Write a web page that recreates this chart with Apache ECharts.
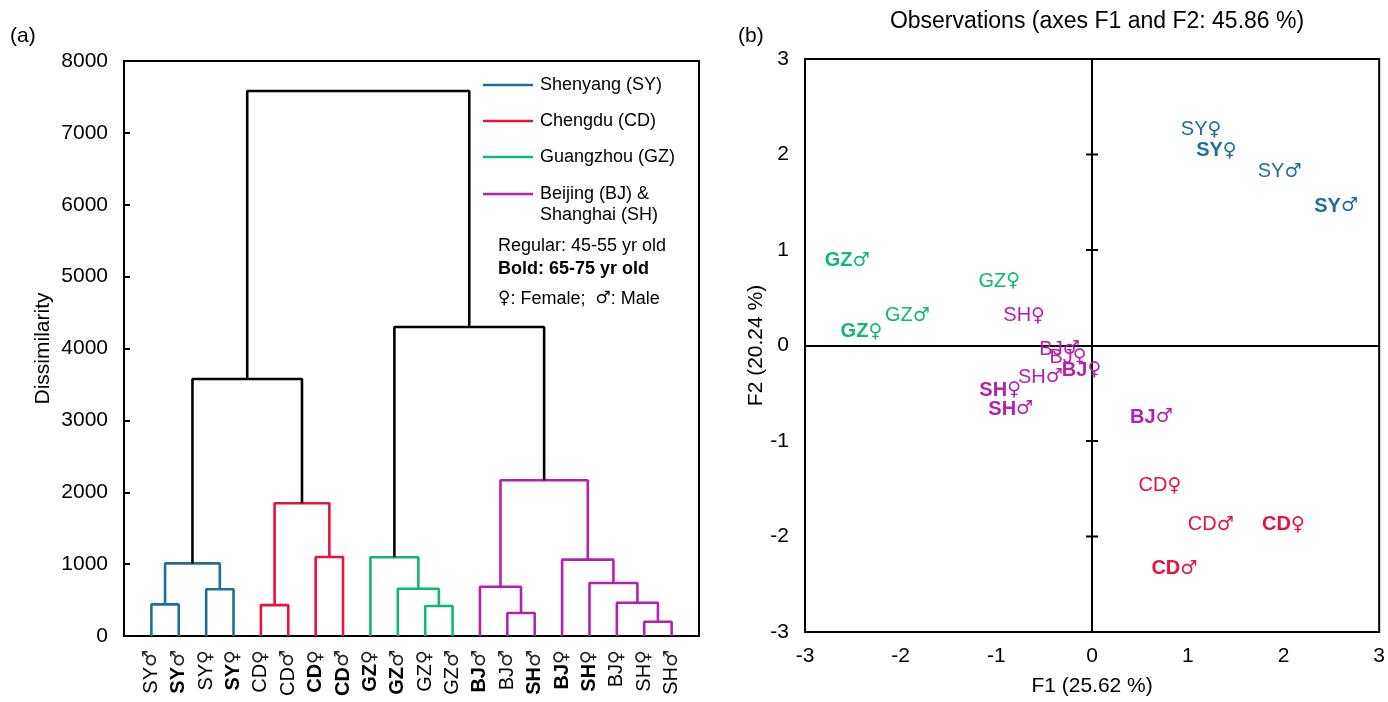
<!DOCTYPE html>
<html><head><meta charset="utf-8">
<script src="https://cdn.jsdelivr.net/npm/echarts@6/dist/echarts.min.js"></script>
<style>html,body{margin:0;padding:0;background:#fff}#c{width:1388px;height:702px}</style>
</head><body><div id="c"></div>
<script>
// ---------- Dendrogram data (panel a) ----------
const leafCities = ['SY','SY','SY','SY','CD','CD','CD','CD','GZ','GZ','GZ','GZ','BJ','BJ','SH','BJ','SH','BJ','SH','SH'];
const leafSex    = ['M','M','F','F','F','M','F','M','F','M','F','M','M','M','M','F','F','F','F','M'];
const leafBold   = [0,1,0,1,0,0,1,1,1,1,0,0,1,0,1,1,1,0,0,0];
// merges: node indices (0-19 leaves, 20+ merges in order), heights, cluster group
const mergeLeft   = [0,2,20,4,6,23,22,10,9,8,13,12,18,17,16,15,31,29,26];
const mergeRight  = [1,3,21,5,7,24,25,11,27,28,14,30,19,32,33,34,35,36,37];
const mergeHeight = [440,650,1010,430,1100,1846,3576,417,658,1095,320,686,199,463,737,1062,2166,4300,7583];
const mergeGroup  = ['SY','SY','SY','CD','CD','CD','-','GZ','GZ','GZ','BS','BS','BS','BS','BS','BS','BS','-','-'];
const dissimTicks = [0,8000,1000];

// ---------- PCA data (panel b) ----------
const pcaCity = ['SY','SY','SY','SY','GZ','GZ','GZ','GZ','SH','BJ','BJ','BJ','SH','SH','SH','BJ','CD','CD','CD','CD'];
const pcaSex  = ['F','F','M','M','M','F','M','F','F','M','F','F','M','F','M','M','F','M','F','M'];
const pcaBold = [0,1,0,1,1,0,0,1,0,0,0,1,0,1,1,1,0,0,1,1];
const pcaF1   = [1.14,1.30,1.96,2.55,-2.56,-0.97,-1.93,-2.41,-0.71,-0.34,-0.25,-0.11,-0.54,-0.96,-0.85,0.62,0.71,1.24,2.00,0.86];
const pcaF2   = [2.26,2.04,1.82,1.46,0.885,0.67,0.31,0.145,0.31,-0.04,-0.125,-0.26,-0.33,-0.47,-0.67,-0.75,-1.47,-1.875,-1.875,-2.34];
const pcaTicks = [-3,-2,-1,0,1,2,3];

const groupColor = {SY:'#1f6e9a', CD:'#e9113d', GZ:'#12b870', BJ:'#b521ad', SH:'#b521ad', BS:'#b521ad', '-':'#000000'};
const symOf = s => s === 'F' ? '\u2640' : '\u2642';
const FONT = "'Liberation Sans', Arial, sans-serif";
const SYMFONT = "'DejaVu Sans', sans-serif";

// build dendrogram line series
const nodeX = [], nodeH = [];
for (let i = 0; i < leafCities.length; i++) { nodeX.push(i + 1); nodeH.push(0); }
const series = [];
mergeLeft.forEach((l, k) => {
  const r = mergeRight[k], h = mergeHeight[k];
  series.push({
    type: 'line', xAxisIndex: 0, yAxisIndex: 0, symbol: 'none', silent: true, animation: false, clip: false,
    lineStyle: {color: groupColor[mergeGroup[k]], width: 2.6},
    data: [[nodeX[l], nodeH[l]], [nodeX[l], h], [nodeX[r], h], [nodeX[r], nodeH[r]]]
  });
  nodeX.push((nodeX[l] + nodeX[r]) / 2); nodeH.push(h);
});

// cross tick marks on the vertical zero line of panel b
series.push({
  type: 'scatter', xAxisIndex: 1, yAxisIndex: 1, silent: true, animation: false, z: 1,
  symbol: 'rect', symbolSize: [12, 2], itemStyle: {color: '#000', opacity: 1},
  data: pcaTicks.filter(t => t !== 0 && t > pcaTicks[0] && t < pcaTicks[pcaTicks.length - 1]).map(t => [0, t])
});

// PCA scatter series grouped by city colour
['SY','GZ','BJ','SH','CD'].forEach(city => {
  const data = [];
  pcaCity.forEach((c, i) => { if (c === city) data.push({value: [pcaF1[i], pcaF2[i]], city: c, sex: pcaSex[i], bold: pcaBold[i]}); });
  series.push({
    type: 'scatter', xAxisIndex: 1, yAxisIndex: 1, symbolSize: 0, silent: true, animation: false, z: 3,
    itemStyle: {color: groupColor[city], opacity: 1},
    label: {
      show: true, position: 'inside', color: groupColor[city], opacity: 1,
      formatter: p => '{' + (p.data.bold ? 'b' : 'r') + '|' + p.data.city + '}{s|' + symOf(p.data.sex) + '}',
      rich: {
        b: {fontSize: 20, fontWeight: 'bold', fontFamily: FONT, color: groupColor[city]},
        r: {fontSize: 20, fontFamily: FONT, color: groupColor[city]},
        s: {fontSize: 19, fontFamily: SYMFONT, color: groupColor[city]}
      }
    },
    data: data
  });
});

const axisLineBlack = {lineStyle: {color: '#000', width: 2}};
const option = {
  animation: false,
  textStyle: {fontFamily: FONT},
  grid: [
    {left: 124, top: 61, width: 575, height: 575, show: true, borderColor: '#000', borderWidth: 2, backgroundColor: 'rgba(0,0,0,0)'},
    {left: 805, top: 59, width: 576, height: 575, show: true, borderColor: '#000', borderWidth: 2, backgroundColor: 'rgba(0,0,0,0)'}
  ],
  xAxis: [
    {gridIndex: 0, type: 'value', min: 0, max: leafCities.length + 1, interval: 1,
     axisLine: Object.assign({onZero: false}, axisLineBlack), axisTick: {show: false}, splitLine: {show: false},
     axisLabel: {rotate: 90, margin: 14, color: '#000', showMinLabel: true, showMaxLabel: true,
       formatter: v => { const i = v - 1; if (i < 0 || i >= leafCities.length) return ''; return '{' + (leafBold[i] ? 'b' : 'r') + '|' + leafCities[i] + '}{s|' + symOf(leafSex[i]) + '}'; },
       rich: {
         b: {fontSize: 20, fontWeight: 'bold', fontFamily: FONT, color: '#000'},
         r: {fontSize: 20, fontFamily: FONT, color: '#000'},
         s: {fontSize: 19, fontFamily: SYMFONT, color: '#222'}
       }}},
    {gridIndex: 1, type: 'value', min: pcaTicks[0], max: pcaTicks[pcaTicks.length - 1], interval: 1,
     axisLine: Object.assign({onZero: false}, axisLineBlack), axisTick: {show: false}, splitLine: {show: false},
     axisLabel: {fontSize: 21, color: '#000', margin: 14},
     name: 'F1 (25.62 %)', nameLocation: 'middle', nameGap: 44, nameTextStyle: {fontSize: 21, color: '#000'}},
    {gridIndex: 1, type: 'value', min: pcaTicks[0], max: pcaTicks[pcaTicks.length - 1], interval: 1,
     axisLine: {onZero: true, onZeroAxisIndex: 1, lineStyle: {color: '#000', width: 2}},
     axisTick: {show: false}, axisLabel: {show: false}, splitLine: {show: false}}
  ],
  yAxis: [
    {gridIndex: 0, type: 'value', min: dissimTicks[0], max: dissimTicks[1], interval: dissimTicks[2],
     axisLine: Object.assign({onZero: false}, axisLineBlack),
     axisTick: {show: true, inside: true, length: 6, lineStyle: {color: '#000', width: 2}},
     splitLine: {show: false}, axisLabel: {fontSize: 21, color: '#000', margin: 16, formatter: v => String(v)},
     name: 'Dissimilarity', nameLocation: 'middle', nameGap: 70, nameTextStyle: {fontSize: 21, color: '#000'}},
    {gridIndex: 1, type: 'value', min: pcaTicks[0], max: pcaTicks[pcaTicks.length - 1], interval: 1, position: 'left',
     axisLine: Object.assign({onZero: false}, axisLineBlack), axisTick: {show: false}, splitLine: {show: false},
     axisLabel: {fontSize: 21, color: '#000', margin: 16},
     name: 'F2 (20.24 %)', nameLocation: 'middle', nameGap: 36, nameTextStyle: {fontSize: 21, color: '#000'}},
    {gridIndex: 1, type: 'value', min: pcaTicks[0], max: pcaTicks[pcaTicks.length - 1], interval: 1, position: 'right',
     axisLine: {onZero: true, onZeroAxisIndex: 1, lineStyle: {color: '#000', width: 2}},
     axisTick: {show: false}, axisLabel: {show: false}, splitLine: {show: false}}
  ],
  graphic: [
    {type: 'text', x: 10, y: 36, style: {text: '(a)', font: '21px ' + FONT, fill: '#000', textVerticalAlign: 'middle'}},
    {type: 'text', x: 738, y: 36, style: {text: '(b)', font: '21px ' + FONT, fill: '#000', textVerticalAlign: 'middle'}},
    {type: 'text', x: 1097, y: 22, style: {text: 'Observations (axes F1 and F2: 45.86 %)', font: '23px ' + FONT, fill: '#000', textAlign: 'center', textVerticalAlign: 'middle'}},
    {type: 'line', shape: {x1: 483, y1: 85, x2: 533, y2: 85}, style: {stroke: groupColor.SY, lineWidth: 2.6}},
    {type: 'line', shape: {x1: 483, y1: 121, x2: 533, y2: 121}, style: {stroke: groupColor.CD, lineWidth: 2.6}},
    {type: 'line', shape: {x1: 483, y1: 157, x2: 533, y2: 157}, style: {stroke: groupColor.GZ, lineWidth: 2.6}},
    {type: 'line', shape: {x1: 483, y1: 194, x2: 533, y2: 194}, style: {stroke: groupColor.BS, lineWidth: 2.6}},
    {type: 'text', x: 540, y: 85, style: {text: 'Shenyang (SY)', font: '18px ' + FONT, fill: '#000', textVerticalAlign: 'middle'}},
    {type: 'text', x: 540, y: 121, style: {text: 'Chengdu (CD)', font: '18px ' + FONT, fill: '#000', textVerticalAlign: 'middle'}},
    {type: 'text', x: 540, y: 157, style: {text: 'Guangzhou (GZ)', font: '18px ' + FONT, fill: '#000', textVerticalAlign: 'middle'}},
    {type: 'text', x: 540, y: 194, style: {text: 'Beijing (BJ) &', font: '18px ' + FONT, fill: '#000', textVerticalAlign: 'middle'}},
    {type: 'text', x: 540, y: 215, style: {text: 'Shanghai (SH)', font: '18px ' + FONT, fill: '#000', textVerticalAlign: 'middle'}},
    {type: 'text', x: 498, y: 246, style: {text: 'Regular: 45-55 yr old', font: '18px ' + FONT, fill: '#000', textVerticalAlign: 'middle'}},
    {type: 'text', x: 498, y: 269, style: {text: 'Bold: 65-75 yr old', font: 'bold 18px ' + FONT, fill: '#000', textVerticalAlign: 'middle'}},
    {type: 'text', x: 498, y: 299, style: {
      text: '{s|\u2640}{t|: Female;  }{s|\u2642}{t|: Male}', textVerticalAlign: 'middle', fill: '#000',
      rich: {s: {font: '17px ' + SYMFONT, fill: '#000'}, t: {font: '18px ' + FONT, fill: '#000'}}}}
  ],
  series: series
};
const chart = echarts.init(document.getElementById('c'), null, {renderer: 'canvas'});
chart.setOption(option);
</script></body></html>
